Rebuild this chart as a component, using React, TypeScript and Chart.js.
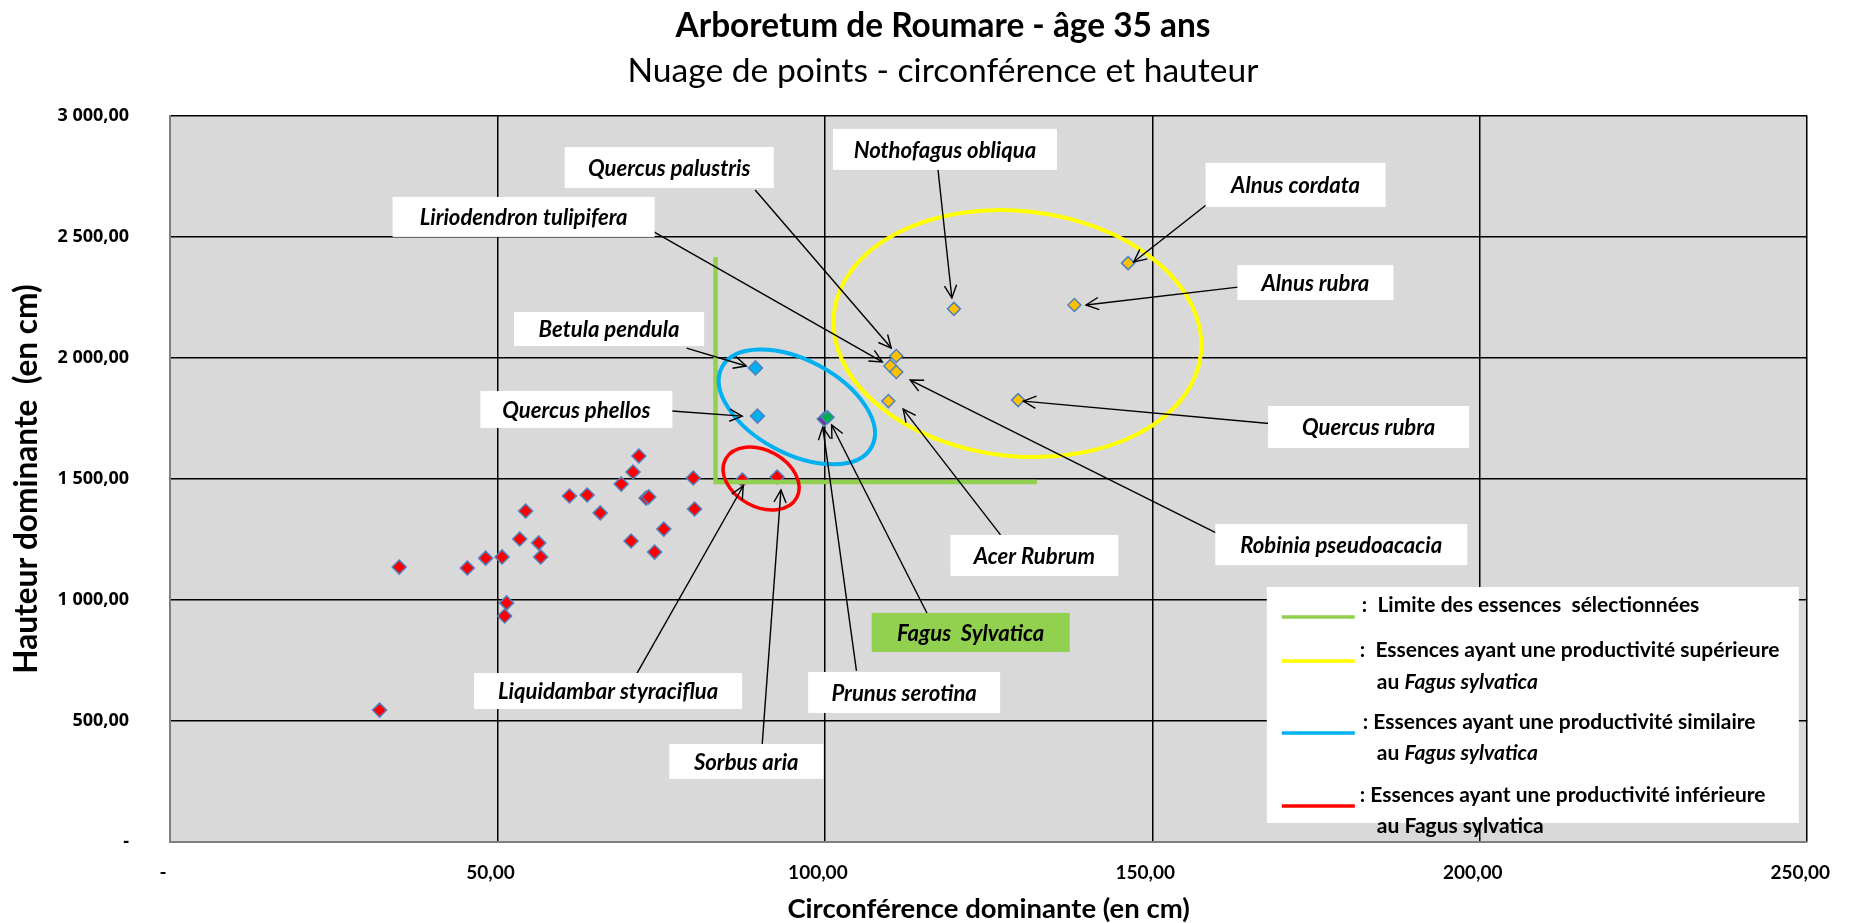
import React, { useEffect, useRef } from 'react';
import { Chart, registerables } from 'chart.js';

Chart.register(...registerables);

const FONT = 'Lato, "Open Sans", sans-serif';
const TICK_FONT_Y = '"Open Sans", "DejaVu Sans", sans-serif';

// ---- Data (circonférence cm, hauteur cm) ----
const inferieurX = [32.0, 35.0, 45.4, 48.2, 50.7, 51.1, 51.4, 53.4, 54.3, 56.3, 56.6, 61.0, 63.7, 65.7, 68.9, 70.4, 70.7, 71.6, 72.7, 73.1, 74.0, 75.4, 79.9, 80.1, 87.4, 92.7];
const inferieurY = [545, 1136, 1132, 1173, 1178, 934, 988, 1252, 1368, 1236, 1178, 1430, 1434, 1360, 1479, 1244, 1529, 1595, 1421, 1426, 1198, 1293, 1504, 1376, 1496, 1508];

const similaireX = [89.4, 89.7];
const similaireY = [1959, 1760];

const prunusX = [100.4];
const prunusY = [1755];

const fagusX = [99.9];
const fagusY = [1748];

const superieurX = [119.7, 110.9, 110.0, 110.9, 109.7, 129.5, 146.3, 138.1];
const superieurY = [2203, 2008, 1967, 1942, 1822, 1826, 2392, 2219];

const xTickValues = [0, 50, 100, 150, 200, 250];
const xTickLabels = ['-', '50,00', '100,00', '150,00', '200,00', '250,00'];
const yTickValues = [0, 500, 1000, 1500, 2000, 2500, 3000];
const yTickLabels = ['-', '500,00', '1 000,00', '1 500,00', '2 000,00', '2 500,00', '3 000,00'];

const TITLE = 'Arboretum de Roumare - âge 35 ans';
const SUBTITLE = 'Nuage de points - circonférence et hauteur';
const X_TITLE = 'Circonférence dominante (en cm)';
const Y_TITLE = 'Hauteur dominante  (en cm)';

const calloutNames = [
  'Quercus palustris', 'Nothofagus obliqua', 'Alnus cordata', 'Liriodendron tulipifera',
  'Alnus rubra', 'Betula pendula', 'Quercus phellos', 'Quercus rubra', 'Acer Rubrum',
  'Robinia pseudoacacia', 'Fagus  Sylvatica', 'Liquidambar styraciflua', 'Prunus serotina', 'Sorbus aria',
];

// ---- Annotation layout (data coordinates for anchors, pixels for sizes) ----
const calloutLayout = [
  { c: [76.23, 2787], w: 209, h: 41, tail: [89.35, 2694], head: [110.13, 2041] },
  { c: [118.33, 2862], w: 224, h: 41, tail: [117.26, 2781], head: [119.39, 2248] },
  { c: [171.87, 2715], w: 180, h: 44, tail: [158.22, 2632], head: [147.15, 2397] },
  { c: [54.0, 2583], w: 262, h: 40, tail: [73.88, 2521], head: [108.77, 1984] },
  { c: [174.9, 2312], w: 156, h: 35, tail: [163.08, 2293], head: [139.87, 2219] },
  { c: [67.05, 2120], w: 190, h: 34, tail: [78.88, 2041], head: [87.99, 1967] },
  { c: [62.05, 1787], w: 192, h: 37, tail: [76.61, 1781], head: [87.38, 1760] },
  { c: [183.02, 1715], w: 201, h: 42, tail: [170.36, 1723], head: [130.31, 1822] },
  { c: [131.98, 1184], w: 168, h: 41, tail: [126.82, 1269], head: [111.95, 1789] },
  { c: [178.85, 1229], w: 252, h: 41, tail: [159.74, 1277], head: [113.02, 1909] },
  { c: [122.27, 866], w: 198, h: 39, tail: [116.35, 905], head: [101.03, 1723], fill: '#92D050' },
  { c: [66.9, 624], w: 268, h: 36, tail: [70.54, 661], head: [87.53, 1471] },
  { c: [112.1, 618], w: 192, h: 41, tail: [104.82, 707], head: [99.67, 1715] },
  { c: [87.99, 333], w: 154, h: 35, tail: [90.41, 397], head: [93.29, 1455] },
];

const groupEllipses = [
  { c: [129.4, 2101], rx: 184.6, ry: 122.6, rot: 6.3, color: '#FFFF00', width: 4 },
  { c: [95.72, 1798], rx: 84.8, ry: 46.9, rot: 28, color: '#00B0F0', width: 4 },
  { c: [90.26, 1502], rx: 40.5, ry: 28.3, rot: 28.7, color: '#FF0000', width: 3.5 },
];

const limitLine = { x: 83.3, yTop: 2417, y: 1488, xRight: 132.4 };

const legendAnchor = [167.48, 1053.7];
const legendItems = [
  { color: '#92D050', lineY: 30, x: 95, y: 18, parts: [[':  Limite des essences  sélectionnées', false]] },
  { color: '#FFFF00', lineY: 74, x: 93, y: 63, parts: [[':  Essences ayant une productivité supérieure', false]] },
  { color: null, lineY: 0, x: 110, y: 95, parts: [['au ', false], ['Fagus sylvatica', true]] },
  { color: '#00B0F0', lineY: 146, x: 96, y: 135, parts: [[': Essences ayant une productivité similaire', false]] },
  { color: null, lineY: 0, x: 110, y: 166, parts: [['au ', false], ['Fagus sylvatica', true]] },
  { color: '#FF0000', lineY: 219, x: 93, y: 208, parts: [[': Essences ayant une productivité inférieure', false]] },
  { color: null, lineY: 0, x: 110, y: 239, parts: [['au Fagus sylvatica', false]] },
];

// text widths measured on the reference (px) used to size the fonts
const fitWidths = { title: 535, subtitle: 632, xTitle: 402, yTitle: 390, legend: 404 };
const calloutRefWidths: [string, number][] = [
  ['Quercus palustris', 160], ['Liriodendron tulipifera', 210], ['Prunus serotina', 144],
  ['Liquidambar styraciflua', 222], ['Sorbus aria', 104], ['Fagus  Sylvatica', 148],
];

const toPoints = (xs: number[], ys: number[]) => xs.map((x, i) => ({ x, y: ys[i] }));

let measureCtx: CanvasRenderingContext2D | null = null;
function fitSize(text: string, style: string, family: string, target: number) {
  if (!measureCtx) measureCtx = document.createElement('canvas').getContext('2d');
  if (!measureCtx) return 20;
  measureCtx.font = `${style} 100px ${family}`;
  const w = measureCtx.measureText(text).width || 1;
  return Math.round((1000 * target) / w) / 10;
}

const backgroundPlugin = {
  id: 'plotBackground',
  beforeDraw(chart: any) {
    const { ctx, chartArea } = chart;
    ctx.save();
    ctx.fillStyle = '#D9D9D9';
    ctx.fillRect(chartArea.left, chartArea.top, chartArea.right - chartArea.left, chartArea.bottom - chartArea.top);
    ctx.restore();
  },
};

function drawArrow(ctx: CanvasRenderingContext2D, x1: number, y1: number, x2: number, y2: number) {
  ctx.beginPath();
  ctx.moveTo(x1, y1);
  ctx.lineTo(x2, y2);
  ctx.stroke();
  const ang = Math.atan2(y2 - y1, x2 - x1);
  const len = 14;
  const spread = 0.45;
  ctx.beginPath();
  ctx.moveTo(x2 - len * Math.cos(ang - spread), y2 - len * Math.sin(ang - spread));
  ctx.lineTo(x2, y2);
  ctx.lineTo(x2 - len * Math.cos(ang + spread), y2 - len * Math.sin(ang + spread));
  ctx.stroke();
}

const annotationPlugin = {
  id: 'roumareAnnotations',
  afterDatasetsDraw(chart: any) {
    const { ctx } = chart;
    const xs = chart.scales.x;
    const ys = chart.scales.y;
    const px = (v: number) => xs.getPixelForValue(v);
    const py = (v: number) => ys.getPixelForValue(v);
    ctx.save();

    // limit of selected species
    ctx.strokeStyle = '#92D050';
    ctx.lineWidth = 4.5;
    ctx.lineJoin = 'miter';
    ctx.beginPath();
    ctx.moveTo(px(limitLine.x), py(limitLine.yTop));
    ctx.lineTo(px(limitLine.x), py(limitLine.y));
    ctx.lineTo(px(limitLine.xRight), py(limitLine.y));
    ctx.stroke();

    // group ellipses
    for (const e of groupEllipses) {
      ctx.strokeStyle = e.color;
      ctx.lineWidth = e.width;
      ctx.beginPath();
      ctx.ellipse(px(e.c[0]), py(e.c[1]), e.rx, e.ry, (e.rot * Math.PI) / 180, 0, Math.PI * 2);
      ctx.stroke();
    }

    // arrows
    ctx.strokeStyle = '#000';
    ctx.lineWidth = 1.4;
    for (const c of calloutLayout) {
      drawArrow(ctx, px(c.tail[0]), py(c.tail[1]), px(c.head[0]), py(c.head[1]));
    }

    // label boxes
    const sizes = calloutRefWidths.map(([t, w]) => fitSize(t, 'italic bold', FONT, w));
    const labelSize = Math.round((sizes.reduce((a, b) => a + b, 0) / sizes.length) * 10) / 10;
    ctx.textAlign = 'center';
    ctx.textBaseline = 'middle';
    ctx.font = `italic bold ${labelSize}px ${FONT}`;
    calloutLayout.forEach((c, i) => {
      const cx = px(c.c[0]);
      const cy = py(c.c[1]);
      ctx.fillStyle = c.fill || '#FFFFFF';
      ctx.fillRect(cx - c.w / 2, cy - c.h / 2, c.w, c.h);
      ctx.fillStyle = '#000';
      ctx.fillText(calloutNames[i], cx, cy + 1);
    });

    // legend box
    const lx = px(legendAnchor[0]);
    const ly = py(legendAnchor[1]);
    ctx.fillStyle = '#FFFFFF';
    ctx.fillRect(lx, ly, 532, 236);
    ctx.textAlign = 'left';
    const legendSize = fitSize('Essences ayant une productivité supérieure', 'bold', FONT, fitWidths.legend);
    for (const it of legendItems) {
      if (it.color) {
        ctx.strokeStyle = it.color;
        ctx.lineWidth = 3.5;
        ctx.beginPath();
        ctx.moveTo(lx + 15, ly + it.lineY);
        ctx.lineTo(lx + 88, ly + it.lineY);
        ctx.stroke();
      }
      let x = lx + it.x;
      for (const [text, italic] of it.parts as [string, boolean][]) {
        ctx.font = `${italic ? 'italic ' : ''}bold ${legendSize}px ${FONT}`;
        ctx.fillStyle = '#000';
        ctx.fillText(text, x, ly + it.y);
        x += ctx.measureText(text).width;
      }
    }
    ctx.restore();
  },
};

export default function App() {
  const canvasRef = useRef<HTMLCanvasElement | null>(null);

  useEffect(() => {
    const canvas = canvasRef.current;
    if (!canvas) return;

    const titleSize = fitSize(TITLE, 'bold', FONT, fitWidths.title);
    const subSize = fitSize(SUBTITLE, 'normal', FONT, fitWidths.subtitle);
    const xTitleSize = fitSize(X_TITLE, 'bold', FONT, fitWidths.xTitle);
    const yTitleSize = fitSize(Y_TITLE, 'bold', FONT, fitWidths.yTitle);

    const tLh = titleSize * 1.2;
    const sLh = subSize * 1.2;
    const tTop = 26.5 - tLh / 2;
    const sTop = 71 - (tTop + tLh) - sLh / 2;
    const sBottom = 116 - (tTop + tLh + sTop + sLh);
    const yTitleLh = yTitleSize * 1.2;
    const xTitleLh = xTitleSize * 1.2;

    const marker = (color: string, r: number) => ({
      pointStyle: 'rectRot',
      pointRadius: r,
      pointHoverRadius: r,
      backgroundColor: color,
      borderColor: '#4F81BD',
      borderWidth: 1.5,
      showLine: false,
    });
    const chart = new Chart(canvas, {
      type: 'scatter',
      data: {
        datasets: [
          { label: 'Productivité inférieure', data: toPoints(inferieurX, inferieurY), ...marker('#FF0000', 7) },
          { label: 'Productivité similaire', data: toPoints(similaireX, similaireY), ...marker('#00B0F0', 7) },
          { label: 'Prunus serotina', data: toPoints(prunusX, prunusY), ...marker('#00B050', 6.5) },
          { label: 'Fagus sylvatica', data: toPoints(fagusX, fagusY), ...marker('#7030A0', 7) },
          { label: 'Productivité supérieure', data: toPoints(superieurX, superieurY), ...marker('#FFC000', 6.5) },
        ] as any,
      },
      options: {
        responsive: false,
        animation: false,
        events: [],
        layout: { padding: { left: 30, right: 0, top: 0, bottom: 0 } },
        plugins: {
          legend: { display: false },
          tooltip: { enabled: false },
          title: {
            display: true,
            text: TITLE,
            color: '#000',
            font: { family: FONT, size: titleSize, weight: 'bold', lineHeight: 1.2 },
            padding: { top: tTop, bottom: 0 },
          },
          subtitle: {
            display: true,
            text: SUBTITLE,
            color: '#000',
            font: { family: FONT, size: subSize, weight: 'normal', lineHeight: 1.2 },
            padding: { top: sTop, bottom: sBottom },
          },
        },
        scales: {
          x: {
            type: 'linear',
            min: 0,
            max: 250,
            afterBuildTicks: (s: any) => { s.ticks = xTickValues.map((v) => ({ value: v })); },
            afterFit: (s: any) => { s.height = 81; },
            ticks: {
              callback: (_v: any, i: number) => xTickLabels[i],
              color: '#000',
              font: { family: FONT, size: 19, weight: 'bold' },
              padding: 19,
              labelOffset: -7,
              maxRotation: 0,
              autoSkip: false,
            },
            grid: { color: '#000', lineWidth: 1.5, drawTicks: false },
            border: { display: true, color: '#7F7F7F', width: 2 },
            title: {
              display: true,
              text: X_TITLE,
              color: '#000',
              font: { family: FONT, size: xTitleSize, weight: 'bold', lineHeight: 1.2 },
              padding: { top: 0, bottom: 923 - 909 - xTitleLh / 2 },
            },
          },
          y: {
            type: 'linear',
            min: 0,
            max: 3000,
            afterBuildTicks: (s: any) => { s.ticks = yTickValues.map((v) => ({ value: v })); },
            afterFit: (s: any) => { s.width = 140; },
            ticks: {
              callback: (_v: any, i: number) => yTickLabels[i],
              color: '#000',
              font: { family: TICK_FONT_Y, size: 18, weight: 'bold' },
              padding: 41,
              autoSkip: false,
            },
            grid: { color: '#000', lineWidth: 1.5, drawTicks: false },
            border: { display: true, color: '#7F7F7F', width: 2 },
            title: {
              display: true,
              text: Y_TITLE,
              color: '#000',
              font: { family: FONT, size: yTitleSize, weight: 'bold', lineHeight: 1.2 },
              padding: { top: 27 - 30 - yTitleLh / 2, bottom: 0 },
            },
          },
          spacer: {
            type: 'linear',
            position: 'right',
            display: true,
            ticks: { display: false },
            grid: { display: false, drawOnChartArea: false, drawTicks: false },
            border: { display: false },
            afterFit: (s: any) => { s.width = 38; },
          },
        },
      } as any,
      plugins: [backgroundPlugin, annotationPlugin],
    });
    return () => chart.destroy();
  }, []);

  return (
    <div style={{ position: 'fixed', left: 0, top: 0, width: 1856, height: 923, background: '#fff' }}>
      <canvas ref={canvasRef} width={1856} height={923} style={{ display: 'block', width: 1856, height: 923 }} />
    </div>
  );
}
